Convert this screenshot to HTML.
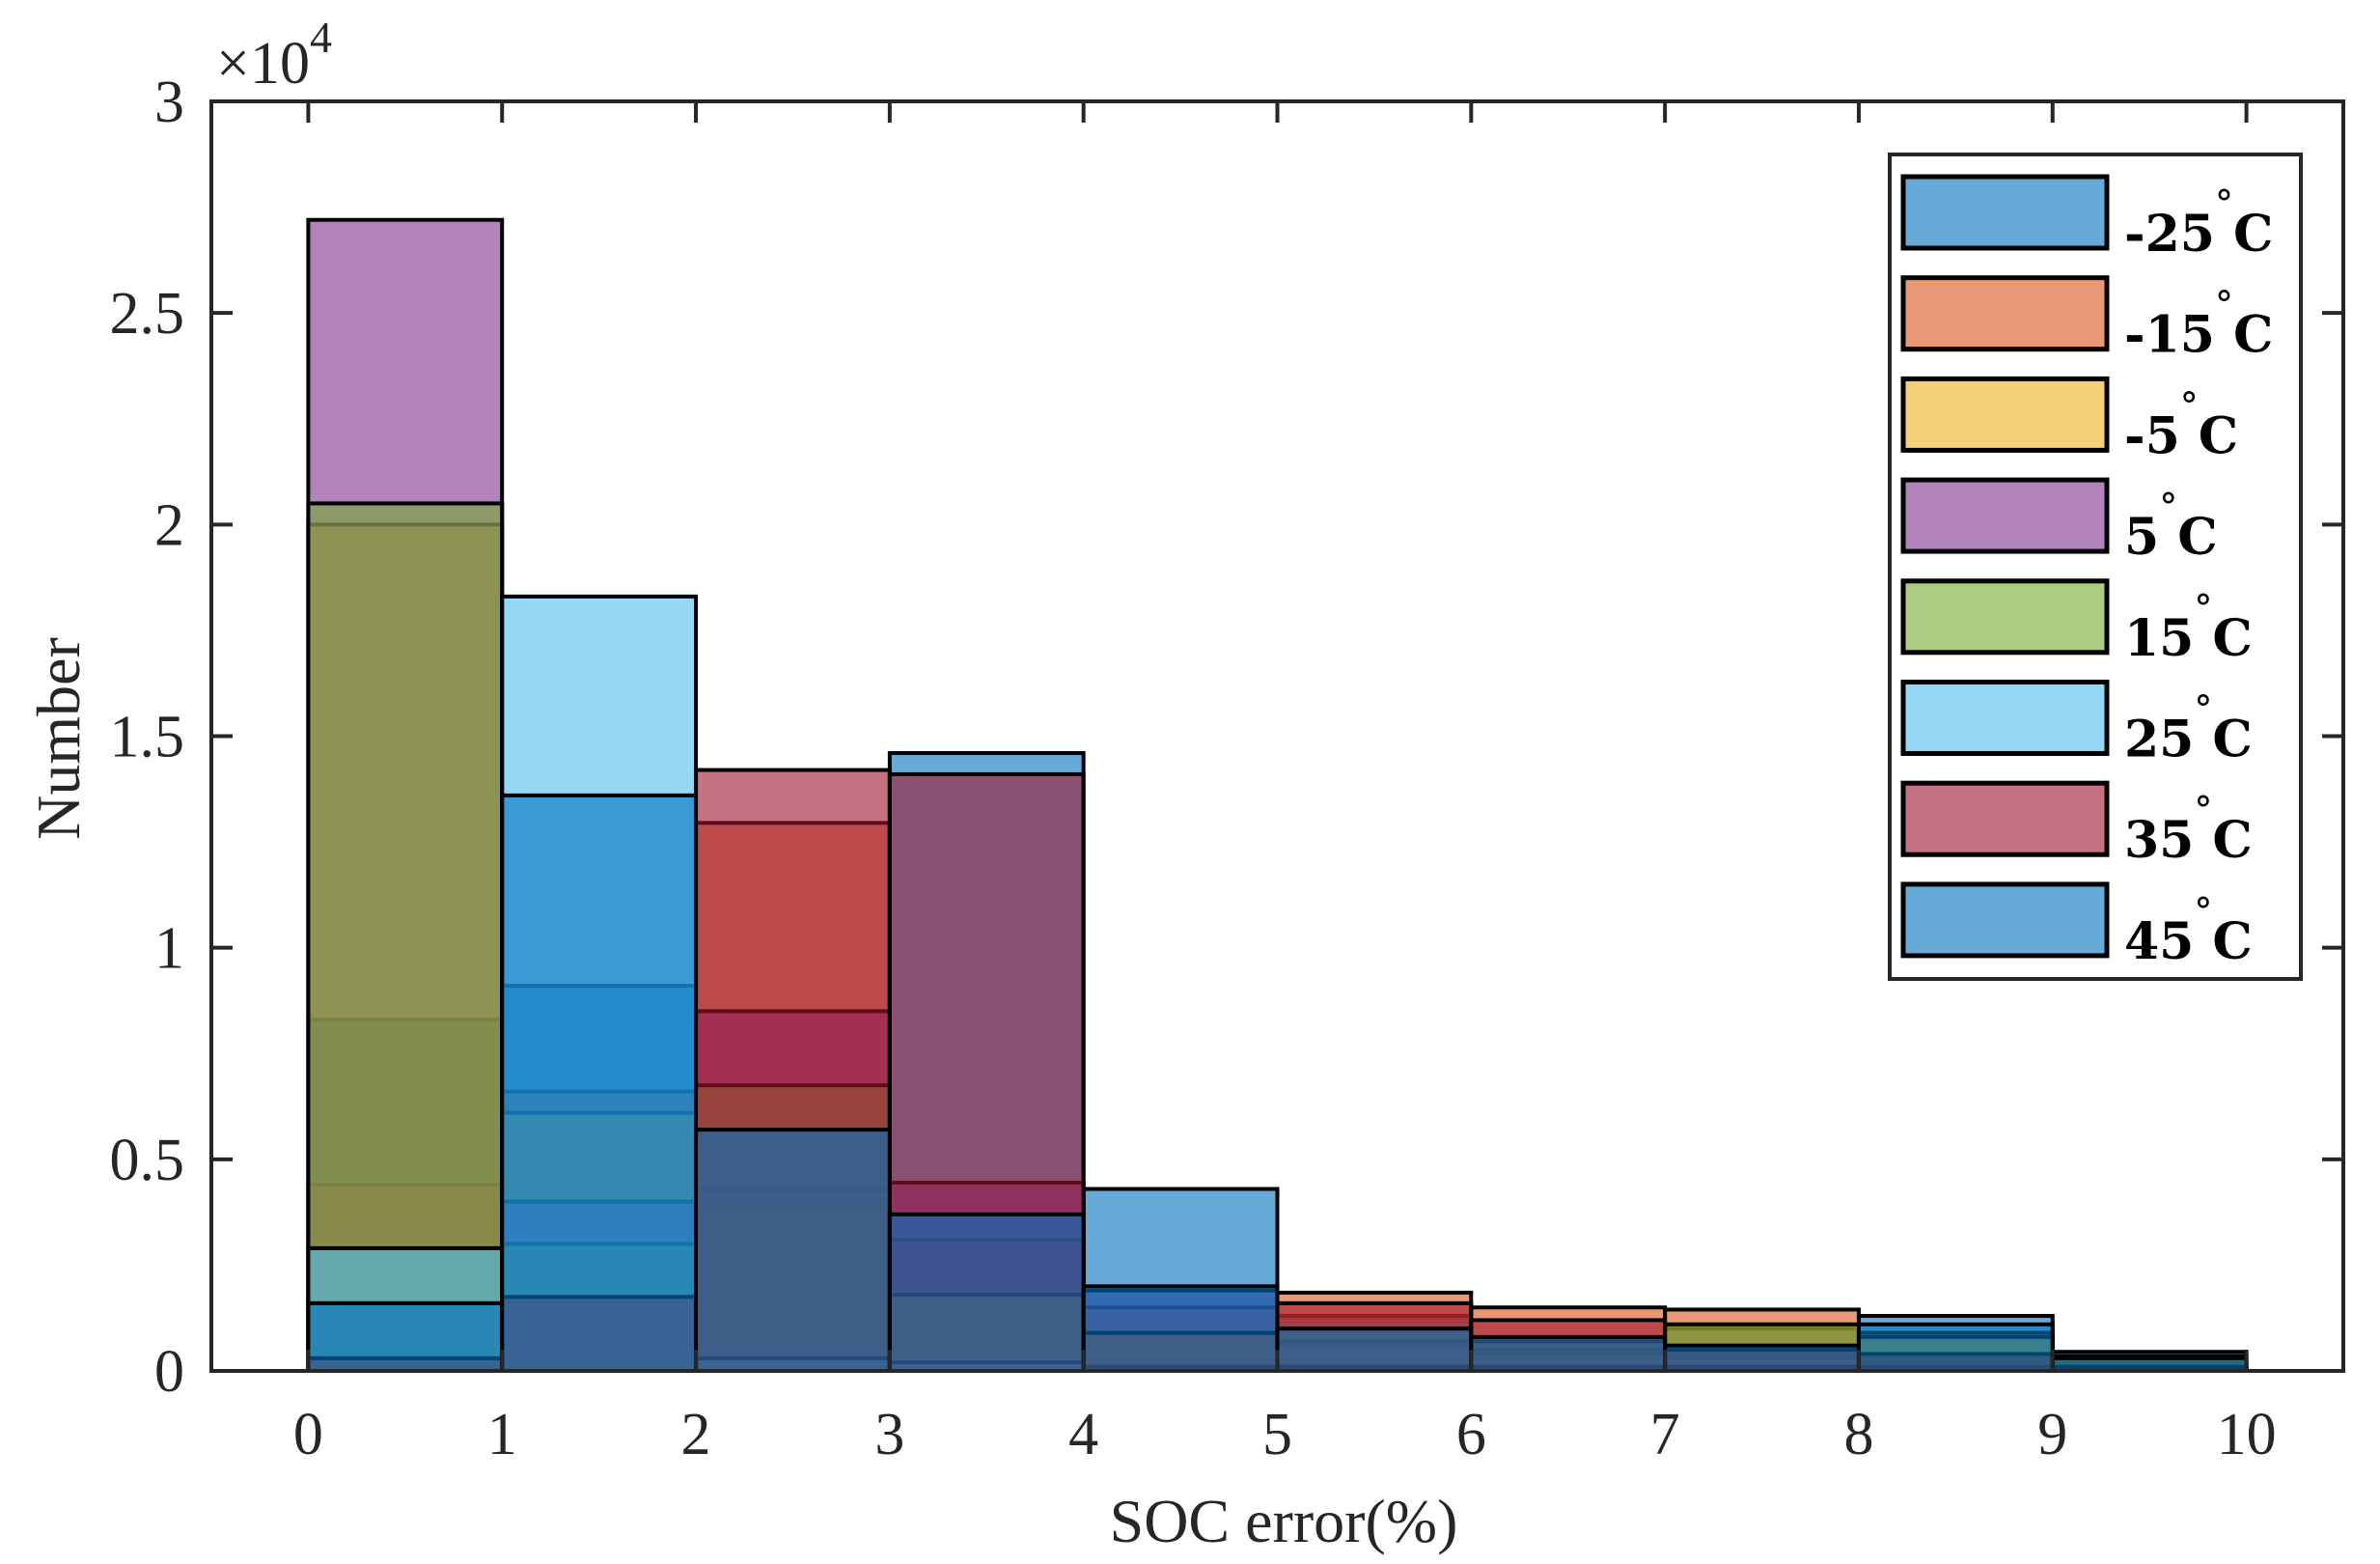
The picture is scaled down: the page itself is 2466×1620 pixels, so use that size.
<!DOCTYPE html>
<html><head><meta charset="utf-8"><style>
html,body{margin:0;padding:0;background:#fff;}
svg{display:block;font-family:"Liberation Serif",serif;}
</style></head><body>
<svg id="chart" width="2466" height="1620" viewBox="0 0 2466 1620" xmlns="http://www.w3.org/2000/svg">
<rect x="0" y="0" width="2466" height="1620" fill="#fff"/>
<g id="bars"></g>
<g id="axes"></g>
<g id="legend"></g>
</svg>
<script>
const binEdges = [0,1,2,3,4,5,6,7,8,9,10];
const seriesNames = ["-25","-15","-5","5","15","25","35","45"];
const seriesColors = ["#0072BD","#D95319","#EDB120","#7E2F8E","#77AC30","#4DBEEE","#A2142F","#0072BD"];
const sM25 = [8300, 9100, 3900, 14600, 4300, 1300, 800, 1000, 1300, 450];
const sM15 = [4400, 6600, 12950, 3100, 1500, 1850, 1500, 1450, 900, 200];
const sM5  = [20000, 6100, 4300, 1800, 900, 600, 500, 400, 300, 100];
const s5   = [27200, 4000, 8500, 4450, 1900, 700, 400, 300, 200, 100];
const s15  = [20500, 3000, 6750, 1800, 900, 1000, 700, 1100, 800, 350];
const s25  = [2900, 18300, 300, 200, 100, 100, 100, 100, 100, 50];
const s35  = [300, 1750, 14200, 14100, 900, 1600, 1200, 500, 400, 100];
const s45  = [1600, 13600, 5700, 3700, 2000, 1000, 800, 600, 1100, 300];
const seriesValues = [sM25, sM15, sM5, s5, s15, s25, s35, s45];
const xTicks = [0,1,2,3,4,5,6,7,8,9,10];
const yTicks = [0,0.5,1,1.5,2,2.5,3];
const yTickLabels = ["0","0.5","1","1.5","2","2.5","3"];

const NS = "http://www.w3.org/2000/svg";
const L = 219, R = 2428, T = 105, B = 1420;
const xMin = -0.5, xMax = 10.5, yMin = 0, yMax = 30000;
const xs = v => L + (v - xMin) / (xMax - xMin) * (R - L);
const ys = v => B - (v - yMin) / (yMax - yMin) * (B - T);
function mk(tag, attrs, parent){ const e = document.createElementNS(NS, tag); for (const k in attrs) e.setAttribute(k, attrs[k]); parent.appendChild(e); return e; }

const bars = document.getElementById('bars');
seriesValues.forEach((vals, si) => {
  const g = mk('g', {}, bars);
  
  
  vals.forEach((v, i) => {
    const x0 = xs(binEdges[i]), x1 = xs(binEdges[i+1]);
    const r = mk('rect', {x: x0, y: ys(v), width: x1 - x0, height: ys(0) - ys(v), fill: seriesColors[si], 'fill-opacity': 0.6, stroke: '#000', 'stroke-width': 4}, g);
    
    
  });
});

const axes = document.getElementById('axes');
const box = mk('rect', {x: L, y: T, width: R - L, height: B - T, fill: 'none', stroke: '#262626', 'stroke-width': 4}, axes);


xTicks.forEach(t => {
  const x = xs(t);
  mk('line', {x1: x, y1: B, x2: x, y2: B - 22, stroke: '#262626', 'stroke-width': 4}, axes);
  mk('line', {x1: x, y1: T, x2: x, y2: T + 22, stroke: '#262626', 'stroke-width': 4}, axes);
  const tx = mk('text', {x: x, y: B + 86, 'font-size': 62, fill: '#262626', 'text-anchor': 'middle'}, axes);
  tx.textContent = String(t);
  
  
});
yTicks.forEach((t, i) => {
  const y = ys(t * 10000);
  mk('line', {x1: L, y1: y, x2: L + 22, y2: y, stroke: '#262626', 'stroke-width': 4}, axes);
  mk('line', {x1: R, y1: y, x2: R - 22, y2: y, stroke: '#262626', 'stroke-width': 4}, axes);
  const tx = mk('text', {x: L - 28, y: y + 21, 'font-size': 62, fill: '#262626', 'text-anchor': 'end'}, axes);
  tx.textContent = yTickLabels[i];
  
  
});
const ex = mk('text', {x: 224, y: 86, 'font-size': 62, fill: '#262626'}, axes);
ex.innerHTML = '×10<tspan dy="-32" font-size="46">4</tspan>';


const xl = mk('text', {x: 1330, y: 1597, 'font-size': 64, fill: '#262626', 'text-anchor': 'middle'}, axes);
xl.textContent = 'SOC error(%)';


const yl = mk('text', {x: 0, y: 0, 'font-size': 64, fill: '#262626', 'text-anchor': 'middle', transform: 'translate(82,765) rotate(-90)'}, axes);
yl.textContent = 'Number';



const leg = document.getElementById('legend');

const lb = mk('rect', {x: 1958, y: 160, width: 426, height: 854, fill: '#fff', stroke: '#262626', 'stroke-width': 4}, leg);


seriesNames.forEach((n, i) => {
  const y = 183 + i * 104.7;
  const g = mk('g', {}, leg);
  
  
  mk('rect', {x: 1972, y: y, width: 211, height: 74, fill: seriesColors[i], 'fill-opacity': 0.6, stroke: '#000', 'stroke-width': 5}, g);
  const t = mk('text', {x: 2201, y: y + 77, 'font-size': 52, 'font-weight': 'bold', fill: '#000', 'font-family': '"DejaVu Serif", serif'}, g);
  t.innerHTML = n + '<tspan dy="-36" font-size="38" font-weight="normal">°</tspan><tspan dy="36">C</tspan>';
});
</script>
</body></html>
